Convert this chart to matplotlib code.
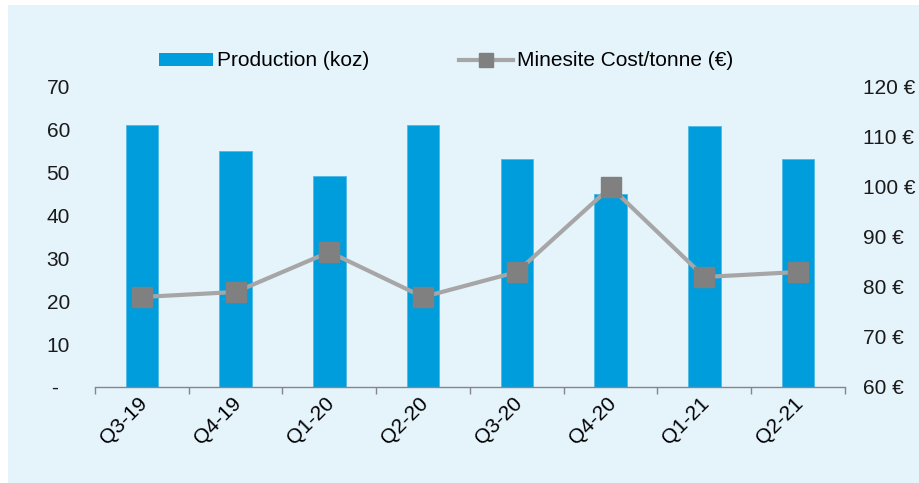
import numpy as np
import matplotlib.pyplot as plt
from matplotlib.patches import Rectangle, Patch
from matplotlib.lines import Line2D
from matplotlib.transforms import ScaledTranslation

quarters = ['Q3-19', 'Q4-19', 'Q1-20', 'Q2-20', 'Q3-20', 'Q4-20', 'Q1-21', 'Q2-21']
production = [61.2, 55.1, 49.3, 61.2, 53.1, 45.0, 60.8, 53.1]   # koz
cost_per_tonne = [78, 79, 87, 78, 83, 100, 82, 83]               # EUR

left_ticks = [0, 10, 20, 30, 40, 50, 60, 70]
left_labels = ['-  ', '10', '20', '30', '40', '50', '60', '70']
right_ticks = [60, 70, 80, 90, 100, 110, 120]
right_labels = [f'{v} €' for v in right_ticks]

bar_color = '#009DDC'
line_color = '#A6A6A6'
marker_color = '#808080'
panel_color = '#E5F3FB'
axis_gray = '#868686'

plt.rcParams['font.family'] = ['Liberation Sans', 'DejaVu Sans']
plt.rcParams['font.size'] = 15

fig = plt.figure(figsize=(9.2, 4.83), dpi=100)
fig.patches.append(Rectangle((8 / 920, 0), 1, 1 - 5 / 483, transform=fig.transFigure,
                             facecolor=panel_color, edgecolor='none', zorder=-10))

ax = fig.add_axes([95 / 920, 1 - 387 / 483, 750 / 920, 300 / 483])
ax.set_facecolor('none')
x = np.arange(len(quarters))

ax.bar(x, production, width=0.345, color=bar_color, edgecolor='#4FB9E6', linewidth=0.6, zorder=2)
ax.set_xlim(-0.5, len(quarters) - 0.5)
ax.set_ylim(0, 70)
ax.set_yticks(left_ticks)
ax.set_yticklabels(left_labels)
ax.tick_params(axis='y', length=0, pad=18, colors='#1a1a1a')

ax.set_xticks(x)
ax.set_xticklabels(quarters, rotation=45, ha='right', va='top')
ax.tick_params(axis='x', which='major', length=0, pad=5)
shift = ScaledTranslation(9 / 100, 0, fig.dpi_scale_trans)
for lbl in ax.get_xticklabels():
    lbl.set_transform(lbl.get_transform() + shift)
ax.set_xticks(np.arange(-0.5, len(quarters)), minor=True)
ax.tick_params(axis='x', which='minor', length=5, width=1, color=axis_gray)

for side in ['top', 'left', 'right']:
    ax.spines[side].set_visible(False)
ax.spines['bottom'].set_color(axis_gray)
ax.spines['bottom'].set_linewidth(1)

ax2 = ax.twinx()
ax2.plot(x, cost_per_tonne, color=line_color, linewidth=3, marker='s', markersize=14,
         markerfacecolor=marker_color, markeredgecolor=marker_color, zorder=3)
ax2.set_ylim(60, 120)
ax2.set_yticks(right_ticks)
ax2.set_yticklabels(right_labels)
ax2.tick_params(axis='y', length=0, pad=13, colors='#1a1a1a')
for side in ['top', 'left', 'right', 'bottom']:
    ax2.spines[side].set_visible(False)

handles = [
    Patch(facecolor=bar_color, edgecolor='none'),
    Line2D([0], [0], color=line_color, linewidth=3, marker='s', markersize=10,
           markerfacecolor=marker_color, markeredgecolor=marker_color),
]
fig.legend(handles, ['Production (koz)', 'Minesite Cost/tonne (€)'], ncol=2,
           loc='center', bbox_to_anchor=(446 / 920, 1 - 61 / 483), frameon=False,
           handlelength=2.6, handletextpad=0.2, columnspacing=4.3, handleheight=0.6)

fig.savefig('out.png', dpi=100)
